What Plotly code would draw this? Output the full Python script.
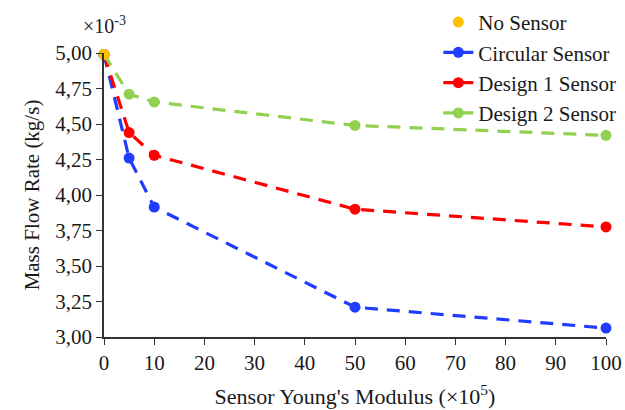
import plotly.graph_objects as go

x_vals = [0, 5, 10, 50, 100]
no_sensor_x = [0]
no_sensor_y = [4.99]
circular = [4.99, 4.26, 3.915, 3.21, 3.063]
design1 = [4.99, 4.44, 4.28, 3.90, 3.775]
design2 = [4.99, 4.71, 4.655, 4.49, 4.42]
x_ticks = list(range(0, 101, 10))
y_ticks = [3.00, 3.25, 3.50, 3.75, 4.00, 4.25, 4.50, 4.75, 5.00]

font = "Liberation Serif"
fig = go.Figure()
series = [("Circular Sensor", circular, "#1F3CFF"),
          ("Design 1 Sensor", design1, "#FF0000"),
          ("Design 2 Sensor", design2, "#92D050")]
for rank, (name, ys, col) in enumerate(series):
    fig.add_trace(go.Scatter(x=x_vals, y=ys, mode="lines+markers", name=name,
                             line=dict(color=col, width=3.2, dash="13px,9px"),
                             marker=dict(color=col, size=11), cliponaxis=False,
                             showlegend=False))
    # legend entry with a solid line sample, as in the reference
    fig.add_trace(go.Scatter(x=[None], y=[None], mode="lines+markers", name=name,
                             line=dict(color=col, width=3.2),
                             marker=dict(color=col, size=11),
                             legendrank=2 + rank))
fig.add_trace(go.Scatter(x=no_sensor_x, y=no_sensor_y, mode="markers", name="No Sensor",
                         marker=dict(color="#FFC000", size=11), cliponaxis=False,
                         legendrank=1))

fig.update_layout(
    width=625, height=410,
    margin=dict(l=104, r=19, t=53, b=73, autoexpand=False),
    plot_bgcolor="white", paper_bgcolor="white",
    separators=", ",
    font=dict(family=font, size=21, color="#1a1a1a"),
    showlegend=True,
    legend=dict(x=0.666, y=1.18, xanchor="left", yanchor="top", bgcolor="rgba(0,0,0,0)",
                font=dict(size=21), tracegroupgap=0, itemwidth=30,
                traceorder="normal"),
    xaxis=dict(range=[0, 100], tickvals=x_ticks, showgrid=False, zeroline=False,
               showline=True, linecolor="#333", linewidth=1.5, ticks="outside",
               ticklen=6, tickcolor="#333", tickfont=dict(size=21),
               title=dict(text="Sensor Young's Modulus (×10<sup>5</sup>)", font=dict(size=22), standoff=15)),
    yaxis=dict(range=[3, 5], tickvals=y_ticks, tickformat=".2f", showgrid=False, zeroline=False,
               showline=True, linecolor="#333", linewidth=1.5, ticks="outside",
               ticklen=6, tickcolor="#333", tickfont=dict(size=21),
               title=dict(text="Mass Flow Rate (kg/s)", font=dict(size=21), standoff=10)),
    annotations=[dict(text="×10<sup>-3</sup>", x=0, y=1.0, xref="paper", yref="paper",
                      xanchor="center", yanchor="bottom", yshift=14, showarrow=False,
                      font=dict(size=20, family=font, color="#1a1a1a"))],
)

fig.write_html("out.html")
